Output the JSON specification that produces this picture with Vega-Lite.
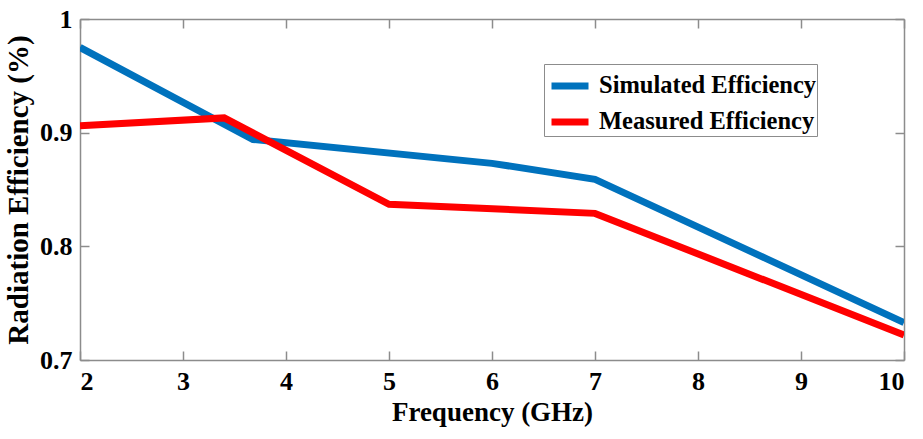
{
  "$schema": "https://vega.github.io/schema/vega-lite/v6.json",
  "width": 824,
  "height": 341,
  "autosize": "none",
  "padding": {"left": 80, "top": 19, "right": 19, "bottom": 79},
  "background": "white",
  "config": {
    "view": {"stroke": null},
    "axis": {
      "grid": false,
      "domainColor": "#8c8c8c",
      "domainWidth": 1.5,
      "tickColor": "#8c8c8c",
      "tickWidth": 1.5,
      "tickSize": -9
    }
  },
  "data": {
    "values": [
      {"freq": 2, "eff": 0.975, "series": "Simulated Efficiency"},
      {"freq": 3.68, "eff": 0.894, "series": "Simulated Efficiency"},
      {"freq": 6, "eff": 0.873, "series": "Simulated Efficiency"},
      {"freq": 7, "eff": 0.859, "series": "Simulated Efficiency"},
      {"freq": 10, "eff": 0.733, "series": "Simulated Efficiency"},
      {"freq": 2, "eff": 0.906, "series": "Measured Efficiency"},
      {"freq": 3.4, "eff": 0.913, "series": "Measured Efficiency"},
      {"freq": 5, "eff": 0.837, "series": "Measured Efficiency"},
      {"freq": 7, "eff": 0.829, "series": "Measured Efficiency"},
      {"freq": 10, "eff": 0.722, "series": "Measured Efficiency"}
    ]
  },
  "layer": [
    {
      "mark": {"type": "line", "strokeWidth": 7, "strokeJoin": "miter", "clip": true},
      "encoding": {
        "x": {
          "field": "freq", "type": "quantitative",
          "scale": {"domain": [2, 10], "nice": false, "zero": false},
          "axis": {
            "values": [2, 3, 4, 5, 6, 7, 8, 9, 10],
            "labelFont": "Liberation Serif", "labelFontWeight": "bold", "labelFontSize": 26, "labelColor": "black",
            "labelPadding": 17,
            "title": "Frequency (GHz)",
            "titleFont": "Liberation Serif", "titleFontWeight": "bold", "titleFontSize": 27, "titleColor": "black",
            "titlePadding": 5
          }
        },
        "y": {
          "field": "eff", "type": "quantitative",
          "scale": {"domain": [0.7, 1], "nice": false, "zero": false},
          "axis": {
            "values": [0.7, 0.8, 0.9, 1], "format": ".1~f",
            "labelFont": "Liberation Serif", "labelFontWeight": "bold", "labelFontSize": 26, "labelColor": "black",
            "labelPadding": 17,
            "title": "Radiation Efficiency (%)",
            "titleFont": "Liberation Serif", "titleFontWeight": "bold", "titleFontSize": 29, "titleColor": "black",
            "titlePadding": 6
          }
        },
        "color": {
          "field": "series", "type": "nominal",
          "sort": ["Simulated Efficiency", "Measured Efficiency"],
          "scale": {"domain": ["Simulated Efficiency", "Measured Efficiency"], "range": ["#0072BD", "#FF0000"]},
          "legend": {
            "title": null,
            "orient": "none",
            "legendX": 464,
            "legendY": 45,
            "symbolType": "stroke",
            "symbolStrokeWidth": 7,
            "symbolSize": 1369,
            "symbolOffset": 4,
            "labelFont": "Liberation Serif",
            "labelFontWeight": "bold",
            "labelFontSize": 24.5,
            "labelColor": "black",
            "labelLimit": 0,
            "strokeColor": "#8c8c8c",
            "fillColor": "white",
            "padding": 0,
            "rowPadding": -3,
            "labelOffset": 7
          }
        },
        "order": {"field": "series", "sort": "descending"}
      }
    },
    {
      "mark": {"type": "rule", "opacity": 0},
      "encoding": {
        "x": {
          "field": "freq", "type": "quantitative",
          "axis": {"orient": "top", "values": [2, 3, 4, 5, 6, 7, 8, 9, 10], "labels": false, "title": null}
        },
        "y": {
          "field": "eff", "type": "quantitative",
          "axis": {"orient": "right", "values": [0.7, 0.8, 0.9, 1], "labels": false, "title": null}
        }
      }
    }
  ],
  "resolve": {"axis": {"x": "independent", "y": "independent"}}
}
